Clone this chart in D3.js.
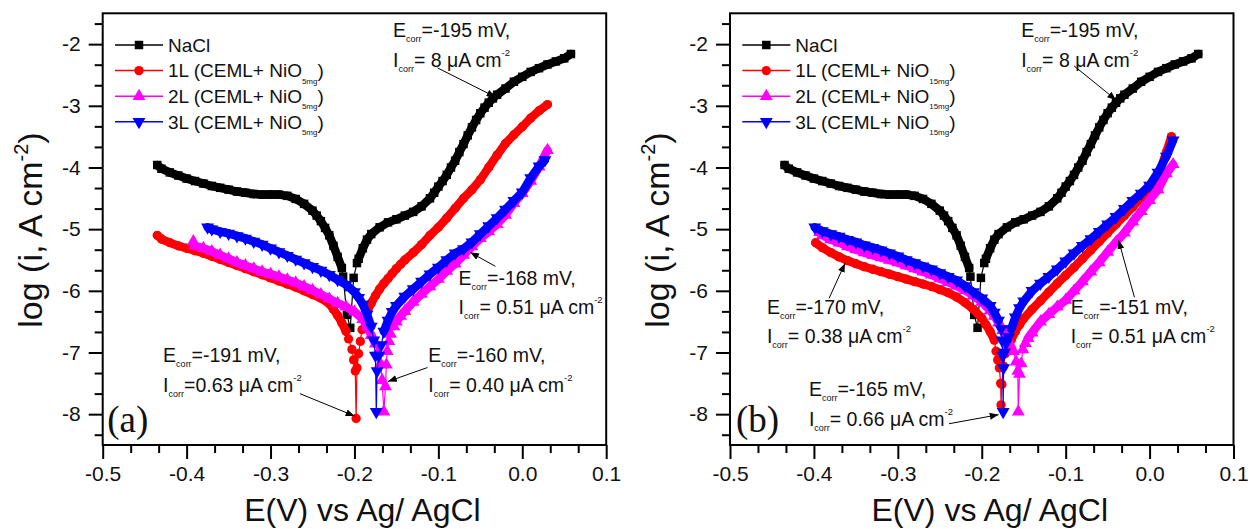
<!DOCTYPE html>
<html lang="en">
<head>
<meta charset="UTF-8">
<title>Tafel plots - CEML + NiO coatings</title>
<script src="https://d3js.org/d3.v7.min.js"></script>
<style>
    body { margin: 0; background: #fff; }
    svg { display: block; }
    text { font-family: Arial, 'Liberation Sans', sans-serif; fill: #111; }
</style>
</head>
<body>
<svg id="chart" width="1252" height="529"></svg>
<script>
    // potential (V vs Ag/AgCl), log i (A cm-2)
    const nacl = [[-0.435,-3.96],[-0.43,-4.02],[-0.42,-4.08],[-0.41,-4.13],[-0.40,-4.18],[-0.39,-4.22],[-0.38,-4.26],[-0.37,-4.30],[-0.36,-4.33],[-0.35,-4.36],[-0.34,-4.39],[-0.33,-4.41],[-0.32,-4.43],[-0.31,-4.44],[-0.30,-4.44],[-0.29,-4.44],[-0.28,-4.46],[-0.27,-4.51],[-0.26,-4.59],[-0.25,-4.70],[-0.245,-4.78],[-0.24,-4.87],[-0.235,-4.98],[-0.23,-5.10],[-0.225,-5.27],[-0.22,-5.45],[-0.215,-5.63],[-0.2135,-5.77],[-0.209,-6.39],[-0.205,-6.60],[-0.201,-5.79],[-0.197,-5.55],[-0.195,-5.48],[-0.19,-5.31],[-0.185,-5.17],[-0.18,-5.08],[-0.17,-4.97],[-0.16,-4.89],[-0.15,-4.84],[-0.14,-4.78],[-0.13,-4.72],[-0.12,-4.63],[-0.11,-4.50],[-0.105,-4.41],[-0.10,-4.31],[-0.095,-4.22],[-0.09,-4.12],[-0.085,-4.00],[-0.08,-3.89],[-0.075,-3.75],[-0.07,-3.62],[-0.065,-3.48],[-0.06,-3.35],[-0.055,-3.23],[-0.05,-3.12],[-0.045,-3.03],[-0.04,-2.95],[-0.035,-2.88],[-0.03,-2.82],[-0.02,-2.72],[-0.01,-2.61],[0.00,-2.53],[0.01,-2.45],[0.02,-2.39],[0.03,-2.33],[0.04,-2.28],[0.05,-2.23],[0.058,-2.16]];

    const layer1_5mg = [[-0.435,-5.10],[-0.43,-5.16],[-0.42,-5.22],[-0.41,-5.27],[-0.40,-5.31],[-0.39,-5.35],[-0.38,-5.39],[-0.37,-5.44],[-0.36,-5.49],[-0.35,-5.54],[-0.34,-5.59],[-0.33,-5.64],[-0.32,-5.69],[-0.31,-5.74],[-0.30,-5.79],[-0.29,-5.84],[-0.28,-5.89],[-0.27,-5.94],[-0.26,-6.00],[-0.25,-6.06],[-0.24,-6.12],[-0.23,-6.21],[-0.225,-6.30],[-0.22,-6.40],[-0.215,-6.52],[-0.21,-6.66],[-0.207,-6.78],[-0.203,-6.95],[-0.201,-7.12],[-0.199,-7.30],[-0.198,-8.07],[-0.197,-7.25],[-0.195,-7.02],[-0.193,-6.82],[-0.191,-6.63],[-0.188,-6.46],[-0.185,-6.33],[-0.18,-6.20],[-0.175,-6.08],[-0.17,-5.97],[-0.165,-5.88],[-0.16,-5.80],[-0.155,-5.72],[-0.15,-5.64],[-0.145,-5.57],[-0.14,-5.50],[-0.13,-5.38],[-0.12,-5.25],[-0.11,-5.10],[-0.10,-4.97],[-0.09,-4.82],[-0.08,-4.66],[-0.07,-4.50],[-0.06,-4.36],[-0.05,-4.20],[-0.04,-4.00],[-0.03,-3.80],[-0.02,-3.61],[-0.01,-3.47],[0.00,-3.34],[0.01,-3.20],[0.02,-3.08],[0.03,-2.98]];

    const layer2_5mg = [[-0.392,-5.20],[-0.39,-5.27],[-0.38,-5.31],[-0.37,-5.36],[-0.36,-5.42],[-0.35,-5.48],[-0.34,-5.54],[-0.33,-5.59],[-0.32,-5.64],[-0.31,-5.69],[-0.30,-5.73],[-0.29,-5.77],[-0.28,-5.82],[-0.27,-5.87],[-0.26,-5.93],[-0.25,-5.99],[-0.24,-6.06],[-0.23,-6.13],[-0.22,-6.20],[-0.21,-6.26],[-0.20,-6.34],[-0.19,-6.46],[-0.185,-6.58],[-0.18,-6.72],[-0.175,-6.86],[-0.172,-7.00],[-0.169,-7.18],[-0.167,-7.45],[-0.165,-7.96],[-0.163,-7.55],[-0.162,-7.20],[-0.161,-6.98],[-0.159,-6.82],[-0.157,-6.70],[-0.153,-6.58],[-0.15,-6.50],[-0.145,-6.41],[-0.14,-6.33],[-0.13,-6.18],[-0.12,-6.05],[-0.11,-5.93],[-0.10,-5.81],[-0.09,-5.68],[-0.08,-5.56],[-0.07,-5.42],[-0.06,-5.28],[-0.05,-5.15],[-0.04,-5.04],[-0.03,-4.92],[-0.02,-4.77],[-0.01,-4.58],[0.00,-4.42],[0.01,-4.22],[0.02,-3.99],[0.03,-3.72]];

    const layer3_5mg = [[-0.375,-4.97],[-0.37,-5.00],[-0.36,-5.04],[-0.35,-5.07],[-0.34,-5.11],[-0.33,-5.15],[-0.32,-5.20],[-0.31,-5.25],[-0.30,-5.31],[-0.29,-5.37],[-0.28,-5.43],[-0.27,-5.49],[-0.26,-5.55],[-0.25,-5.61],[-0.24,-5.67],[-0.23,-5.74],[-0.22,-5.82],[-0.21,-5.90],[-0.20,-6.02],[-0.195,-6.11],[-0.19,-6.22],[-0.185,-6.38],[-0.18,-6.58],[-0.177,-6.80],[-0.175,-7.05],[-0.174,-7.96],[-0.173,-7.30],[-0.171,-7.05],[-0.168,-6.88],[-0.165,-6.66],[-0.16,-6.48],[-0.155,-6.34],[-0.15,-6.24],[-0.14,-6.09],[-0.13,-5.97],[-0.12,-5.85],[-0.11,-5.73],[-0.10,-5.62],[-0.09,-5.50],[-0.08,-5.39],[-0.07,-5.32],[-0.06,-5.21],[-0.05,-5.08],[-0.04,-4.95],[-0.03,-4.82],[-0.02,-4.68],[-0.01,-4.54],[0.00,-4.40],[0.01,-4.17],[0.02,-3.98],[0.027,-3.88]];

    const layer1_15mg = [[-0.398,-5.22],[-0.39,-5.30],[-0.38,-5.38],[-0.37,-5.45],[-0.36,-5.51],[-0.35,-5.56],[-0.34,-5.61],[-0.33,-5.65],[-0.32,-5.69],[-0.31,-5.73],[-0.30,-5.77],[-0.29,-5.81],[-0.28,-5.85],[-0.27,-5.89],[-0.26,-5.93],[-0.25,-5.98],[-0.24,-6.03],[-0.23,-6.10],[-0.22,-6.19],[-0.21,-6.30],[-0.20,-6.44],[-0.195,-6.55],[-0.19,-6.66],[-0.185,-6.80],[-0.183,-6.98],[-0.181,-7.12],[-0.179,-7.25],[-0.1775,-7.50],[-0.177,-7.85],[-0.176,-7.52],[-0.174,-7.22],[-0.172,-7.02],[-0.169,-6.92],[-0.165,-6.80],[-0.16,-6.66],[-0.155,-6.55],[-0.15,-6.45],[-0.14,-6.30],[-0.13,-6.16],[-0.12,-6.02],[-0.11,-5.88],[-0.10,-5.75],[-0.09,-5.62],[-0.08,-5.48],[-0.07,-5.34],[-0.06,-5.20],[-0.05,-5.06],[-0.04,-4.92],[-0.03,-4.78],[-0.02,-4.64],[-0.01,-4.49],[0.00,-4.34],[0.01,-4.15],[0.02,-3.75],[0.026,-3.50]];

    const layer2_15mg = [[-0.393,-5.05],[-0.39,-5.10],[-0.38,-5.17],[-0.37,-5.22],[-0.36,-5.28],[-0.35,-5.33],[-0.34,-5.38],[-0.33,-5.42],[-0.32,-5.46],[-0.31,-5.50],[-0.30,-5.54],[-0.29,-5.59],[-0.28,-5.64],[-0.27,-5.69],[-0.26,-5.74],[-0.25,-5.80],[-0.24,-5.86],[-0.23,-5.92],[-0.22,-5.99],[-0.21,-6.08],[-0.20,-6.18],[-0.19,-6.32],[-0.185,-6.41],[-0.18,-6.52],[-0.175,-6.64],[-0.17,-6.76],[-0.166,-6.87],[-0.162,-6.98],[-0.159,-7.15],[-0.157,-7.30],[-0.1565,-7.96],[-0.155,-7.35],[-0.153,-7.18],[-0.151,-6.95],[-0.148,-6.85],[-0.145,-6.77],[-0.14,-6.68],[-0.13,-6.50],[-0.12,-6.38],[-0.11,-6.26],[-0.10,-6.15],[-0.09,-6.00],[-0.08,-5.85],[-0.07,-5.69],[-0.06,-5.54],[-0.05,-5.37],[-0.04,-5.21],[-0.03,-5.06],[-0.02,-4.88],[-0.01,-4.71],[0.00,-4.53],[0.01,-4.36],[0.02,-4.10],[0.028,-3.95]];

    const layer3_15mg = [[-0.399,-4.97],[-0.39,-5.03],[-0.38,-5.08],[-0.37,-5.12],[-0.36,-5.17],[-0.35,-5.21],[-0.34,-5.26],[-0.33,-5.30],[-0.32,-5.34],[-0.31,-5.39],[-0.30,-5.44],[-0.29,-5.50],[-0.28,-5.55],[-0.27,-5.60],[-0.26,-5.65],[-0.25,-5.71],[-0.24,-5.77],[-0.23,-5.83],[-0.22,-5.92],[-0.21,-6.02],[-0.20,-6.12],[-0.19,-6.24],[-0.185,-6.35],[-0.18,-6.48],[-0.177,-6.62],[-0.176,-6.80],[-0.175,-7.05],[-0.1745,-7.96],[-0.174,-7.25],[-0.173,-7.00],[-0.171,-6.85],[-0.168,-6.75],[-0.165,-6.62],[-0.16,-6.43],[-0.155,-6.28],[-0.15,-6.17],[-0.14,-6.00],[-0.13,-5.88],[-0.12,-5.77],[-0.11,-5.65],[-0.10,-5.52],[-0.09,-5.39],[-0.08,-5.27],[-0.07,-5.16],[-0.06,-5.04],[-0.05,-4.92],[-0.04,-4.80],[-0.03,-4.67],[-0.02,-4.54],[-0.01,-4.42],[0.00,-4.29],[0.01,-4.08],[0.02,-3.82],[0.028,-3.56]];

    const potentialTicks = [-0.5, -0.4, -0.3, -0.2, -0.1, 0.0, 0.1];
    const logTicks = [-8, -7, -6, -5, -4, -3, -2];
    const legendNames = ["NaCl", "1L (CEML+ NiO", "2L (CEML+ NiO", "3L (CEML+ NiO"];

    // E_corr (mV) and I_corr labels of each panel
    const ecorrA = ["-195", "-168", "-191", "-160"];
    const icorrA = ["= 8", "= 0.51", "=0.63", "= 0.40"];
    const ecorrB = ["-195", "-170", "-151", "-165"];
    const icorrB = ["= 8", "= 0.38", "= 0.51", "= 0.66"];

    // where the notes sit, in data units (text baseline, arrow tail, arrow tip)
    const spotsA = [
        {e: -0.154, l: -1.89, from: [-0.101, -2.385], to: [-0.032, -2.857]},
        {e: -0.076, l: -5.90, from: [-0.032, -5.603], to: [-0.062, -5.376]},
        {e: -0.428, l: -7.16, from: [-0.265, -7.667], to: [-0.200, -8.030]},
        {e: -0.112, l: -7.16, from: [-0.113, -7.244], to: [-0.160, -7.470]}
    ];
    const spotsB = [
        {e: -0.153, l: -1.89, from: [-0.090, -2.353], to: [-0.040, -2.905]},
        {e: -0.456, l: -6.37, from: [-0.382, -6.123], to: [-0.363, -5.555]},
        {e: -0.094, l: -6.37, from: [-0.018, -6.106], to: [-0.037, -5.180]},
        {e: -0.406, l: -7.71, from: [-0.239, -8.155], to: [-0.180, -8.009]}
    ];

    const styles = [
        {color: "#000000", shape: d3.symbolSquare, size: 72, rot: 0},
        {color: "#ff0000", shape: d3.symbolCircle, size: 68, rot: 0},
        {color: "#ff00ff", shape: d3.symbolTriangle, size: 72, rot: 0},
        {color: "#0000ff", shape: d3.symbolTriangle, size: 72, rot: 180}
    ];

    const panels = [
        {left: 102.7, tag: "(a)", tagDx: 4.5, load: "5mg", series: [nacl, layer1_5mg, layer2_5mg, layer3_5mg], ecorr: ecorrA, icorr: icorrA, spots: spotsA},
        {left: 730, tag: "(b)", tagDx: 6, load: "15mg", series: [nacl, layer1_15mg, layer2_15mg, layer3_15mg], ecorr: ecorrB, icorr: icorrB, spots: spotsB}
    ];

    const PW = 503.5, PH = 431.7, PT = 13.3;
    const svg = d3.select("#chart");

    svg.append("defs").append("marker")
        .attr("id", "head")
        .attr("viewBox", "0 0 10 8")
        .attr("refX", 10).attr("refY", 4)
        .attr("markerWidth", 9).attr("markerHeight", 7)
        .attr("markerUnits", "userSpaceOnUse")
        .attr("orient", "auto")
        .append("path").attr("d", "M0,0L10,4L0,8Z").attr("fill", "#000");

    const x = d3.scaleLinear().domain([-0.5, 0.1]).range([0, PW]);
    const y = d3.scaleLinear().domain([-8.5, -1.5]).range([PH, 0]);

    const xMinor = d3.range(0, 19).filter(k => k % 3 !== 0).map(k => -0.5 + k * 0.1 / 3);
    const yMinor = d3.range(-1, 20).filter(k => k % 3 !== 0).map(k => -8 + k / 3);

    const line = d3.line().x(d => x(d[0])).y(d => y(d[1]));

    function styleAxis(g) {
        g.select(".domain").remove();
        g.selectAll(".tick line").attr("stroke", "#000").attr("stroke-width", 2);
        g.selectAll(".tick text").attr("fill", "#111");
        g.attr("font-size", 21).attr("font-family", "Arial, 'Liberation Sans', sans-serif");
    }

    // text with "corr" subscripts and "-2" superscript
    function noteLine(g, px, py, head, rest, sup) {
        const t = g.append("text").attr("x", px).attr("y", py).attr("font-size", 19.5);
        t.append("tspan").text(head);
        t.append("tspan").attr("font-size", 9).attr("dy", 5).text("corr");
        t.append("tspan").attr("dy", -5).text(rest);
        if (sup) t.append("tspan").attr("font-size", 9.5).attr("dy", -11).text("-2");
    }

    panels.forEach(p => {
        const g = svg.append("g").attr("transform", `translate(${p.left},${PT})`);

        // axes
        g.append("g").attr("transform", `translate(0,${PH})`)
            .call(d3.axisBottom(x).tickValues(xMinor).tickSize(8).tickFormat(""))
            .call(styleAxis);
        g.append("g").attr("transform", `translate(0,${PH})`)
            .call(d3.axisBottom(x).tickValues(potentialTicks).tickSize(14).tickPadding(7).tickFormat(d => d.toFixed(1)))
            .call(styleAxis);
        g.append("g")
            .call(d3.axisLeft(y).tickValues(yMinor).tickSize(8).tickFormat(""))
            .call(styleAxis);
        g.append("g")
            .call(d3.axisLeft(y).tickValues(logTicks).tickSize(14).tickPadding(8).tickFormat(d => String(d)))
            .call(styleAxis);
        g.append("rect").attr("width", PW).attr("height", PH)
            .attr("fill", "none").attr("stroke", "#000").attr("stroke-width", 2);

        // curves
        p.series.forEach((data, i) => {
            const st = styles[i];
            const s = g.append("g");
            s.append("path").attr("d", line(data))
                .attr("fill", "none").attr("stroke", st.color).attr("stroke-width", 1.2);
            // the dense scan points merge into a band away from E_corr
            const segs = d3.pairs(data).filter(([a, b]) => b[0] - a[0] > 0.0048);
            s.selectAll(".band").data(segs).join("path")
                .attr("d", d => line(d))
                .attr("fill", "none").attr("stroke", st.color)
                .attr("stroke-width", 8.5).attr("stroke-linecap", "round");
            s.selectAll(".pt").data(data).join("path")
                .attr("d", d3.symbol(st.shape, st.size))
                .attr("transform", d => `translate(${x(d[0])},${y(d[1])}) rotate(${st.rot})`)
                .attr("fill", st.color);
        });

        // legend
        legendNames.forEach((name, i) => {
            const st = styles[i];
            const ly = 31.7 + i * 25.6;
            g.append("line").attr("x1", 12.3).attr("x2", 60.3).attr("y1", ly).attr("y2", ly)
                .attr("stroke", st.color).attr("stroke-width", 1.5);
            g.append("path").attr("d", d3.symbol(st.shape, st.size))
                .attr("transform", `translate(36.3,${ly}) rotate(${st.rot})`)
                .attr("fill", st.color);
            const t = g.append("text").attr("x", 65.3).attr("y", ly + 6.8).attr("font-size", 19).text(name);
            if (i > 0) {
                t.append("tspan").attr("font-size", 8).attr("dy", 6.5).text(p.load);
                t.append("tspan").attr("dy", -6.5).text(")");
            }
        });

        // E_corr / I_corr notes with arrows
        p.spots.forEach((s, i) => {
            const px = x(s.e), py = y(s.l);
            noteLine(g, px, py, "E", "=" + p.ecorr[i] + " mV,", false);
            noteLine(g, px, py + 29.5, "I", p.icorr[i] + " \u03bcA cm", true);
            g.append("line")
                .attr("x1", x(s.from[0])).attr("y1", y(s.from[1]))
                .attr("x2", x(s.to[0])).attr("y2", y(s.to[1]))
                .attr("stroke", "#000").attr("stroke-width", 1)
                .attr("marker-end", "url(#head)");
        });

        // panel tag
        g.append("text").attr("x", p.tagDx).attr("y", 432 - PT)
            .style("font-family", "'Times New Roman', 'Liberation Serif', serif")
            .attr("font-size", 37).text(p.tag);

        // axis titles
        g.append("text").attr("x", PW / 2 + 8).attr("y", 521 - PT)
            .attr("text-anchor", "middle").attr("font-size", 32)
            .text("E(V) vs Ag/ AgCl");
        const yt = g.append("text")
            .attr("transform", `translate(${42 - 102.7},${230 - PT}) rotate(-90)`)
            .attr("text-anchor", "middle").attr("font-size", 34);
        yt.append("tspan").text("log (i, A cm");
        yt.append("tspan").attr("font-size", 20).attr("dy", -14).text("-2");
        yt.append("tspan").attr("dy", 14).text(")");
    });
</script>
</body>
</html>
